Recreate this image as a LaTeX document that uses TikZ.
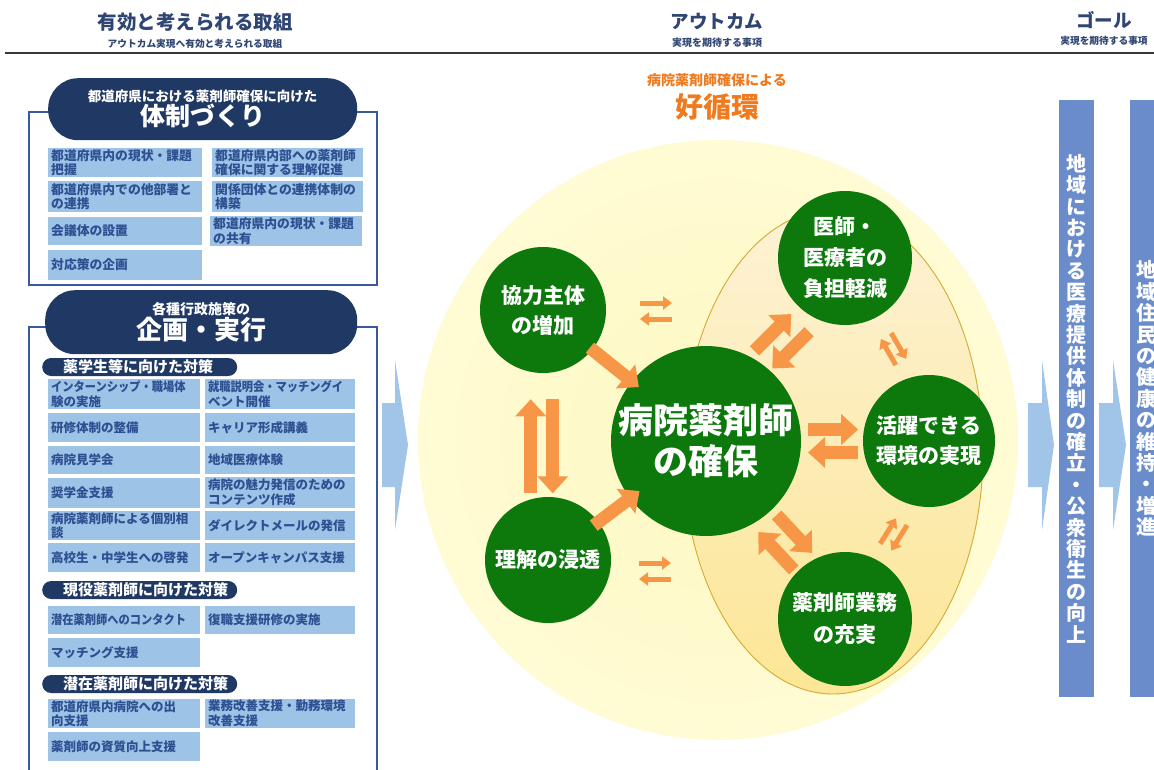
\documentclass[tikz,border=0pt]{standalone}
\usepackage{fontspec}
\setmainfont{Noto Sans CJK JP}
\newfontfamily\narrowjp{Noto Sans CJK JP}[FakeStretch=0.9]
\usetikzlibrary{arrows.meta,calc,shapes.geometric}
\definecolor{hdr}{RGB}{47,69,115}
\definecolor{pillc}{RGB}{32,56,100}
\definecolor{panelc}{RGB}{58,88,160}
\definecolor{cellc}{RGB}{157,195,230}
\definecolor{celltxt}{RGB}{44,80,145}
\definecolor{orng}{RGB}{247,150,70}
\definecolor{orngtxt}{RGB}{240,122,30}
\definecolor{grn}{RGB}{13,121,13}
\definecolor{barc}{RGB}{107,140,203}
\definecolor{chev}{RGB}{160,197,232}
\definecolor{bgin}{RGB}{254,248,192}
\definecolor{bgout}{RGB}{255,251,212}
\definecolor{elltop}{RGB}{253,242,212}
\definecolor{ellbot}{RGB}{252,230,150}
\definecolor{ellline}{RGB}{212,170,50}
\newcommand\cellfont{\fontsize{12.8}{14.5}\selectfont}
\newcommand\cellbox[6]{%
  \pgfmathsetmacro\cellW{#5-6}%
  \pgfmathsetmacro\cellH{#4-#3}%
  \pgfmathsetmacro\cellY{(#3+#4)/2}%
  \node[cell, anchor=west, minimum width=#5pt, text width=\cellW pt, minimum height=\cellH pt] (#1) at (#2,\cellY) {#6};}
\newcommand\apair[5]{%
  \begin{scope}[shift={#1}, rotate=#2]
    \draw[#5] (-#3,-#4) -- (#3,-#4);
    \draw[#5] (#3,#4) -- (-#3,#4);
  \end{scope}}
\begin{document}
\begin{tikzpicture}[x=1pt,y=-1pt,
  htitle/.style={text=hdr, inner sep=0pt, font=\bfseries\fontsize{19.5}{20}\selectfont},
  hsub/.style={text=hdr, inner sep=0pt, font=\bfseries\fontsize{9.7}{10}\selectfont},
  cell/.style={fill=cellc, text=celltxt, inner xsep=3pt, inner ysep=0pt, align=left,
    font=\bfseries\cellfont},
  pill/.style={fill=pillc, rounded corners=30pt, text=white, align=center, inner sep=0pt, font=\bfseries},
  subpill/.style={fill=pillc, rounded corners=9pt, text=white, anchor=west, align=left,
    inner xsep=21pt, inner ysep=0pt, text width=153pt, minimum height=18pt,
    font=\bfseries\fontsize{15}{16}\selectfont},
  gcirc/.style={circle, fill=grn, text=white, align=center, inner sep=0pt,
    font=\bfseries\fontsize{21}{30}\selectfont},
  oarrow/.style={draw=orng, line width=13pt, -{Triangle[width=30pt,length=17pt]}},
  sarrow/.style={draw=orng, line width=5pt, -{Triangle[width=13pt,length=9pt]}},
  bar/.style={fill=barc, text=white, align=center, inner sep=0pt,
    font=\bfseries\fontsize{20}{21.4}\selectfont},
  chevron/.style={fill=chev}
]
\useasboundingbox (0,0) rectangle (1154,769);
\clip (0,0) rectangle (1154,769);
\fill[white] (0,0) rectangle (1154,769);

% ---------- header ----------
\node[htitle] (h1) at (195,22) {有効と考えられる取組};
\node[hsub] (h1s) at (195,44) {アウトカム実現へ有効と考えられる取組};
\node[htitle, font=\bfseries\fontsize{18.5}{20}\selectfont] (h2) at (717,21) {アウトカム};
\node[hsub, font=\bfseries\fontsize{10}{10}\selectfont] (h2s) at (717,43) {実現を期待する事項};
\node[htitle, font=\bfseries\fontsize{18.5}{20}\selectfont] (h3) at (1104,20) {ゴール};
\node[hsub] (h3s) at (1104,41) {実現を期待する事項};
\draw[line width=2pt, black!78] (5,53) -- (1154,53);

% ---------- left panel 1 ----------
\draw[panelc, line width=2.5pt] (29,112) rectangle (377,285);
\node[pill, anchor=north west, minimum width=309pt, minimum height=62pt] (p1) at (48,78)
  {{\fontsize{13.5}{17}\selectfont 都道府県における薬剤師確保に向けた}\\{\fontsize{25}{28}\selectfont 体制づくり}};
\cellbox{a1}{48}{148}{177}{154}{都道府県内の現状・課題\\把握}
\cellbox{a2}{212}{148}{177}{151}{都道府県内部への薬剤師\\確保に関する理解促進}
\cellbox{a3}{48}{181}{212}{154}{都道府県内での他部署と\\の連携}
\cellbox{a4}{212}{181}{212}{151}{関係団体との連携体制の\\構築}
\cellbox{a5}{48}{217}{245}{154}{会議体の設置}
\cellbox{a6}{210}{216}{246}{152}{都道府県内の現状・課題\\の共有}
\cellbox{a7}{48}{250}{280}{154}{対応策の企画}

% ---------- left panel 2 ----------
\draw[panelc, line width=2.5pt] (29,780) -- (29,327) -- (377,327) -- (377,780);
\node[pill, anchor=north west, minimum width=312pt, minimum height=64pt] (p2) at (45,290)
  {{\fontsize{14}{18}\selectfont 各種行政施策の}\\{\fontsize{26}{29}\selectfont 企画・実行}};
\renewcommand\cellfont{\fontsize{12.5}{14.5}\selectfont}
\node[subpill] (s1) at (42,367) {薬学生等に向けた対策};
\cellbox{b1}{48}{379}{409}{152}{{\narrowjp\bfseries インターンシップ・職場体}\\験の実施}
\cellbox{b2}{205}{379}{409}{150}{{\narrowjp\bfseries 就職説明会・マッチングイ}\\ベント開催}
\cellbox{b3}{48}{413}{442}{152}{研修体制の整備}
\cellbox{b4}{205}{413}{442}{150}{キャリア形成講義}
\cellbox{b5}{48}{446}{474}{152}{病院見学会}
\cellbox{b6}{205}{446}{474}{150}{地域医療体験}
\cellbox{b7}{48}{478}{508}{152}{奨学金支援}
\cellbox{b8}{205}{477}{508}{150}{病院の魅力発信のための\\コンテンツ作成}
\cellbox{b9}{48}{511}{540}{152}{病院薬剤師による個別相\\談}
\cellbox{b10}{205}{511}{540}{150}{ダイレクトメールの発信}
\cellbox{b11}{48}{543}{572}{152}{高校生・中学生への啓発}
\cellbox{b12}{205}{543}{572}{150}{オープンキャンパス支援}
\node[subpill] (s2) at (42,590) {現役薬剤師に向けた対策};
\cellbox{b13}{48}{606}{634}{152}{{\narrowjp\bfseries 潜在薬剤師へのコンタクト}}
\cellbox{b14}{205}{606}{634}{150}{復職支援研修の実施}
\cellbox{b15}{48}{638}{667}{152}{マッチング支援}
\node[subpill] (s3) at (42,684) {潜在薬剤師に向けた対策};
\cellbox{b16}{48}{699}{728}{152}{都道府県内病院への出\\向支援}
\cellbox{b17}{205}{699}{728}{150}{業務改善支援・勤務環境\\改善支援}
\cellbox{b18}{48}{732}{761}{152}{薬剤師の資質向上支援}

% ---------- left chevron ----------
\fill[chevron] (382,403) -- (395,403) -- (395,360) -- (408,445) -- (395,530) -- (395,487) -- (382,487) -- cycle;

% ---------- outcome ----------
\node[text=orngtxt, inner sep=0pt, font=\bfseries\fontsize{14}{15}\selectfont] (o1) at (717,80) {病院薬剤師確保による};
\node[text=orngtxt, inner sep=0pt, font=\bfseries\fontsize{28}{30}\selectfont] (o2) at (717,107) {好循環};

\node[circle, minimum size=600pt, inner sep=0pt, inner color=bgin, outer color=bgout] (bg) at (718,440) {};
\node[ellipse, minimum width=300pt, minimum height=484pt, inner sep=0pt, draw=ellline, line width=0.9pt,
  top color=elltop, bottom color=ellbot] (grp) at (833,452) {};

\node[gcirc, minimum size=190pt, font=\bfseries\fontsize{35}{41}\selectfont] (C) at (706,441) {病院薬剤師\\の確保};
\node[gcirc, minimum size=126pt] (kyo) at (543,310) {協力主体\\の増加};
\node[gcirc, minimum size=126pt] (rik) at (548,560) {理解の浸透};
\node[gcirc, minimum size=134pt, font=\bfseries\fontsize{21}{31}\selectfont] (isi) at (845,258) {医師・\\医療者の\\負担軽減};
\node[gcirc, minimum size=132pt] (kat) at (929,441) {活躍できる\\環境の実現};
\node[gcirc, minimum size=134pt, font=\bfseries\fontsize{21}{32}\selectfont] (yak) at (845,619) {薬剤師業務\\の充実};

% orange arrows
\draw[oarrow, shorten <=-3pt, shorten >=-9pt] (kyo) -- (C);
\draw[oarrow, shorten <=-6pt, shorten >=-12pt] (rik) -- (C);
\apair{($(kyo)!0.545!(rik)+(-4,0)$)}{90}{47}{11}{oarrow}
\apair{($(C)!0.57!(kat)$)}{0}{25}{11.5}{oarrow}
\apair{($(C)!0.545!(isi)$)}{45}{26}{12.5}{oarrow}
\apair{($(C)!0.57!(yak)$)}{-47}{26}{12.5}{oarrow}
\apair{($(isi)!0.53!(kat)+(4,-6)$)}{-60}{15}{6}{sarrow}
\apair{($(kat)!0.48!(yak)+(5,8)$)}{58}{15}{6.5}{sarrow}
\apair{($(kyo)+(113,1)$)}{0}{16}{8}{sarrow}
\apair{($(rik)+(107,11)$)}{0}{16}{8}{sarrow}

% ---------- right side ----------
\fill[chevron] (1028,403) -- (1042,403) -- (1042,360) -- (1054,445) -- (1042,530) -- (1042,487) -- (1028,487) -- cycle;
\node[bar, minimum width=35pt, minimum height=597pt] (g1) at (1076.5,398.5)
  {地\\域\\に\\お\\け\\る\\医\\療\\提\\供\\体\\制\\の\\確\\立\\・\\公\\衆\\衛\\生\\の\\向\\上};
\fill[chevron] (1099,403) -- (1113,403) -- (1113,360) -- (1126,445) -- (1113,530) -- (1113,487) -- (1099,487) -- cycle;
\node[bar, anchor=north west, minimum width=32pt, minimum height=597pt] (g2) at (1130,100)
  {地\\域\\住\\民\\の\\健\\康\\の\\維\\持\\・\\増\\進};
\end{tikzpicture}
\end{document}
